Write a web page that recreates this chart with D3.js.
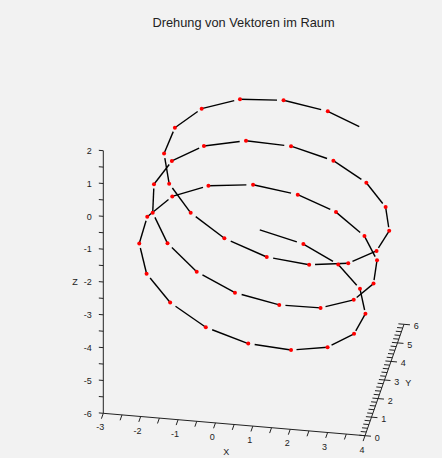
<!DOCTYPE html>
<html>
<head>
<meta charset="utf-8">
<script src="https://cdn.jsdelivr.net/npm/d3@7/dist/d3.min.js"></script>
<style>
  html, body { margin: 0; padding: 0; background: #f2f2f2; }
  svg { display: block; }
  text { font-family: "Liberation Sans", Arial, sans-serif; fill: #222; }
</style>
</head>
<body>
<script>
// Spitzen der gedrehten Vektoren (x, y, z), in Reihenfolge der Drehschritte
const xVals = [0.23,1.43,2.45,3.17,3.49,3.36,2.79,1.90,0.79,-0.38,-1.42,-2.19,-2.56,-2.52,-1.99,-1.11,
               0.05,1.28,2.39,3.29,3.80,3.88,3.49,2.69,1.62,0.40,-0.71,-1.63,-2.20,-2.34,-2.00,-1.23,
               -0.14,1.10,2.32,3.34,4.03,4.30,4.10,3.43,2.42,1.25,0.03,-1.01,-1.76,-2.07,-1.92,-1.29,
               -0.30,0.90,2.17,3.30];
const yVals = [5.5,5.3,4.8,4.0,3.0,2.0,1.2,0.7,0.5,0.7,1.2,2.0,3.0,4.0,4.8,5.3,
               5.5,5.3,4.8,4.0,3.0,2.0,1.2,0.7,0.5,0.7,1.2,2.0,3.0,4.0,4.8,5.3,
               5.5,5.3,4.8,4.0,3.0,2.0,1.2,0.7,0.5,0.7,1.2,2.0,3.0,4.0,4.8,5.3,
               5.5,5.3,4.8,4.0];
const zVals = [-3.21,-3.41,-3.65,-3.87,-4.03,-4.09,-4.10,-3.99,-3.79,-3.52,-3.15,-2.80,-2.48,-2.23,-2.01,-1.88,
               -1.85,-1.92,-2.06,-2.25,-2.37,-2.51,-2.59,-2.63,-2.53,-2.39,-2.14,-1.82,-1.51,-1.22,-0.93,-0.68,
               -0.53,-0.46,-0.50,-0.62,-0.73,-0.86,-1.04,-1.20,-1.23,-1.22,-1.05,-0.83,-0.58,-0.26,0.09,0.45,
               0.72,0.92,0.99,1.00];

const xTickLabels = ["-3","-2","-1","0","1","2","3","4"];
const yTickLabels = ["0","1","2","3","4","5","6"];
const zTickLabels = ["-6","-5","-4","-3","-2","-1","0","1","2"];
const title = "Drehung von Vektoren im Raum";

const W = 442, H = 458;
const svg = d3.select("body").append("svg").attr("width", W).attr("height", H);
svg.append("rect").attr("width", W).attr("height", H).attr("fill", "#f2f2f2");

// Achsenskalen: Datenwert -> Anteil entlang der jeweiligen Achse
const xs = d3.scaleLinear().domain([-3, 4]).range([0, 1]);
const ys = d3.scaleLinear().domain([0, 6]).range([0, 1]);
const zs = d3.scaleLinear().domain([-6, 2]).range([0, 1]);

// Bildschirmlage des Ursprungs (-3, 0, -6) und Richtungen der drei Achsen
const O = [103.3, 413.3];
const ex = [261.7, 22.4], ey = [39, -111.4], ez = [0, -262.6];
function proj(x, y, z) {
  const a = xs(x), b = ys(y), c = zs(z);
  return [O[0] + a * ex[0] + b * ey[0] + c * ez[0],
          O[1] + a * ex[1] + b * ey[1] + c * ez[1]];
}

const axisColor = "#222";
const gAxes = svg.append("g").attr("stroke", axisColor).attr("stroke-width", 1).attr("fill", "none");

// Z-Achse
{
  const p0 = proj(-3, 0, -6), p1 = proj(-3, 0, 2);
  gAxes.append("line").attr("x1", p0[0]).attr("y1", p0[1]).attr("x2", p1[0]).attr("y2", p1[1]);
  zs.ticks(16).forEach(t => {
    const p = proj(-3, 0, t), q = proj(-3.12, 0, t);
    gAxes.append("line").attr("x1", p[0]).attr("y1", p[1]).attr("x2", q[0]).attr("y2", q[1]);
  });
  zTickLabels.forEach(s => {
    const p = proj(-3, 0, +s);
    svg.append("text").attr("x", p[0] - 11.5).attr("y", p[1]).attr("dy", "0.36em")
      .attr("text-anchor", "end").attr("font-size", 9).text(s);
  });
  const pl = proj(-3, 0, -2);
  svg.append("text").attr("x", pl[0] - 28.3).attr("y", pl[1]).attr("dy", "0.36em")
    .attr("text-anchor", "middle").attr("font-size", 9).text("Z");
}

// X-Achse
{
  const p0 = proj(-3, 0, -6), p1 = proj(4, 0, -6);
  gAxes.append("line").attr("x1", p0[0]).attr("y1", p0[1]).attr("x2", p1[0]).attr("y2", p1[1]);
  xs.ticks(14).forEach(t => {
    const p = proj(t, 0, -6), q = proj(t, -0.29, -6);
    gAxes.append("line").attr("x1", p[0]).attr("y1", p[1]).attr("x2", q[0]).attr("y2", q[1]);
  });
  xTickLabels.forEach(s => {
    const p = proj(+s, -0.75, -6);
    svg.append("text").attr("x", p[0] + 1.8).attr("y", p[1]).attr("dy", "0.36em")
      .attr("text-anchor", "middle").attr("font-size", 9).text(s);
  });
  const pl = proj(0.5, -1.45, -6);
  svg.append("text").attr("x", pl[0] + 1.5).attr("y", pl[1]).attr("dy", "0.36em")
    .attr("text-anchor", "middle").attr("font-size", 9).text("X");
}

// Y-Achse
{
  const p0 = proj(4, 0, -6), p1 = proj(4, 6, -6);
  gAxes.append("line").attr("x1", p0[0]).attr("y1", p0[1]).attr("x2", p1[0]).attr("y2", p1[1]);
  ys.ticks(30).forEach(t => {
    const p = proj(4, t, -6), q = proj(3.85, t, -6);
    gAxes.append("line").attr("x1", p[0]).attr("y1", p[1]).attr("x2", q[0]).attr("y2", q[1]);
  });
  ys.ticks(6).forEach(t => {
    const p = proj(4, t, -6), q = proj(4.16, t, -6);
    gAxes.append("line").attr("x1", p[0]).attr("y1", p[1]).attr("x2", q[0]).attr("y2", q[1]);
  });
  yTickLabels.forEach(s => {
    const p = proj(4, +s, -6);
    svg.append("text").attr("x", p[0] + 12.3).attr("y", p[1] + 1.8).attr("dy", "0.36em")
      .attr("text-anchor", "middle").attr("font-size", 9).text(s);
  });
  const pl = proj(4, 3, -6);
  svg.append("text").attr("x", pl[0] + 23.8).attr("y", pl[1] + 2.5).attr("dy", "0.36em")
    .attr("text-anchor", "middle").attr("font-size", 9).text("Y");
}

// Titel
svg.append("text").attr("x", 243.5).attr("y", 27.3).attr("text-anchor", "middle")
  .attr("font-size", 12.8).text(title);

// Punkte projizieren
const pts = xVals.map((x, i) => proj(x, yVals[i], zVals[i]));

// Drehschritte als Vektoren: von jeder Spitze zur nächsten, auf 85 % skaliert
const scaleArrow = 0.85;
const segs = d3.range(pts.length - 1).map(i => {
  const a = pts[i], b = pts[i + 1];
  return [a, [a[0] + scaleArrow * (b[0] - a[0]), a[1] + scaleArrow * (b[1] - a[1])]];
});
svg.append("g").selectAll("line").data(segs).join("line")
  .attr("x1", d => d[0][0]).attr("y1", d => d[0][1])
  .attr("x2", d => d[1][0]).attr("y2", d => d[1][1])
  .attr("stroke", "#000").attr("stroke-width", 1.4);

// Rote Markierungen an den inneren Spitzen
svg.append("g").selectAll("circle").data(pts.slice(1, pts.length - 1)).join("circle")
  .attr("cx", d => d[0]).attr("cy", d => d[1]).attr("r", 2)
  .attr("fill", "#ff0000");
</script>
</body>
</html>
